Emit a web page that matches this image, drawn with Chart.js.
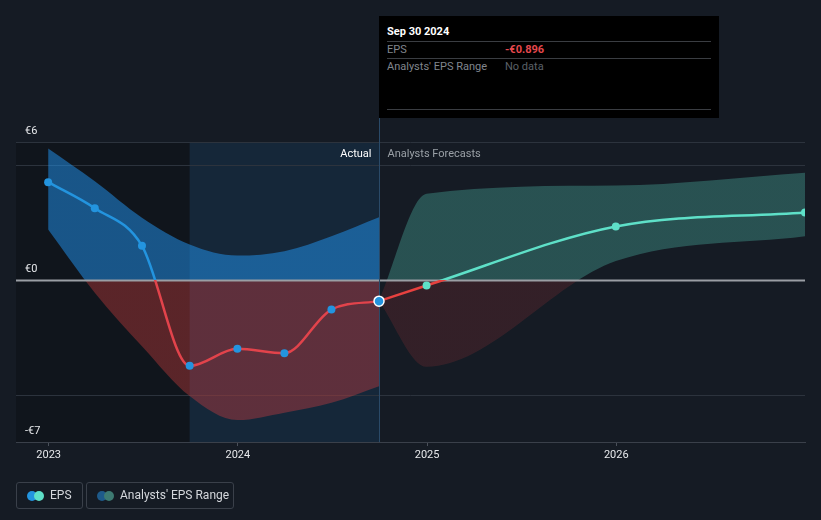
<!DOCTYPE html>
<html>
<head>
<meta charset="utf-8">
<script src="https://cdn.jsdelivr.net/npm/chart.js@4/dist/chart.umd.min.js"></script>
<style>
body { margin: 0; background: #151b24; font-family: Roboto, "Noto Sans", sans-serif; }
#wrap { position: relative; width: 821px; height: 520px; }
#tip { position: absolute; left: 379px; top: 16px; width: 340px; height: 102px; background: #000; font-size: 11px; }
#tip div { position: absolute; white-space: nowrap; line-height: 14px; }
#tip .rule { height: 1px; left: 8px; width: 324px; background: #3a3d42; }
.lg { position: absolute; top: 482px; height: 25px; border: 1px solid #3a404a; border-radius: 3px; color: #d4d7dc; font-size: 12px; line-height: 25px; }
.dot { position: absolute; top: 8px; width: 10px; height: 10px; border-radius: 50%; }
</style>
</head>
<body>
<div id="wrap">
<canvas id="chart1" width="821" height="520"></canvas>
<div id="tip">
  <div style="left:8px;top:9px;color:#fff;font-weight:bold;">Sep 30 2024</div>
  <div class="rule" style="top:25px"></div>
  <div style="left:8px;top:27px;color:#80868e;">EPS</div>
  <div style="left:126px;top:27px;color:#e5484d;font-weight:bold;">-€0.896</div>
  <div class="rule" style="top:42px"></div>
  <div style="left:8px;top:44px;color:#80868e;">Analysts' EPS Range</div>
  <div style="left:126px;top:44px;color:#5b6068;">No data</div>
  <div class="rule" style="top:93px"></div>
</div>
<div class="lg" style="left:16px;width:65px;">
  <span class="dot" style="left:10px;background:#2394df"></span>
  <span class="dot" style="left:17px;background:#5ee0c8"></span>
  <span style="position:absolute;left:33px;">EPS</span>
</div>
<div class="lg" style="left:86px;width:146px;">
  <span class="dot" style="left:10px;background:#1e5a8a"></span>
  <span class="dot" style="left:17px;background:#3d7a72"></span>
  <span style="position:absolute;left:33px;">Analysts' EPS Range</span>
</div>
</div>
<script>
// actual EPS, quarterly
const actualDates = ["2022-12-31", "2023-03-31", "2023-06-30", "2023-09-30", "2023-12-31", "2024-03-31", "2024-06-30", "2024-09-30"];
const actualEps = [4.26, 3.13, 1.50, -3.70, -2.96, -3.15, -1.26, -0.896];
const pastRangeHigh = [5.72, 4.30, 2.72, 1.56, 1.08, 1.27, 1.92, 2.74];
const pastRangeLow = [2.21, -0.53, -2.85, -5.01, -6.05, -5.73, -5.30, -4.58];
// analysts forecasts
const forecastDates = ["2024-09-30", "2024-12-31", "2025-12-31", "2026-12-31"];
const forecastEps = [-0.896, -0.22, 2.34, 2.95];
const forecastHigh = [-0.896, 3.76, 4.12, 4.67];
const forecastLow = [-0.896, -3.74, 0.84, 1.92];
const yearTicks = [2023, 2024, 2025, 2026];
const yTicks = [-7, -5, 0, 5, 6];
const highlightFrom = "2023-09-30";
const todayDate = "2024-09-30";

function toYear(s) {
    var d = new Date(s + "T00:00:00Z");
    var y = d.getUTCFullYear();
    var start = Date.UTC(y, 0, 1), end = Date.UTC(y + 1, 0, 1);
    return y + (d.getTime() - start) / (end - start);
}
function pts(dates, vals) {
    return dates.map((d, i) => ({ x: toYear(d), y: vals[i] }));
}
// colour above / below zero
function splitColor(above, below) {
    return function (ctx) {
        var chart = ctx.chart;
        var area = chart.chartArea;
        if (!area) return above;
        var z = chart.scales.y.getPixelForValue(0);
        var t = (z - area.top) / (area.bottom - area.top);
        t = Math.min(1, Math.max(0, t));
        var g = chart.ctx.createLinearGradient(0, area.top, 0, area.bottom);
        g.addColorStop(0, above);
        g.addColorStop(t, above);
        g.addColorStop(t, below);
        g.addColorStop(1, below);
        return g;
    };
}

const extras = {
    id: "extras",
    beforeDraw(chart) {
        var c = chart.ctx, a = chart.chartArea, x = chart.scales.x;
        var h1 = x.getPixelForValue(toYear(highlightFrom));
        var h2 = x.getPixelForValue(toYear(todayDate));
        c.save();
        c.fillStyle = "rgba(0,0,0,0.2)";
        c.fillRect(a.left, a.top, h1 - a.left, a.bottom - a.top);
        c.fillStyle = "rgba(33,150,243,0.1)";
        c.fillRect(h1, a.top, h2 - h1, a.bottom - a.top);
        c.restore();
    },
    afterDatasetDraw(chart, args) {
        if (args.index !== 2) return;
        var c = chart.ctx, a = chart.chartArea;
        var z = chart.scales.y.getPixelForValue(0);
        var t = Math.round(chart.scales.x.getPixelForValue(toYear(todayDate))) + 0.5;
        c.save();
        c.strokeStyle = "#9a9ea4";
        c.lineWidth = 2;
        c.beginPath();
        c.moveTo(a.left, z);
        c.lineTo(a.right, z);
        c.stroke();
        c.strokeStyle = "#2a4a68";
        c.lineWidth = 1;
        c.beginPath();
        c.moveTo(t, 16);
        c.lineTo(t, a.bottom);
        c.stroke();
        c.font = "11px Roboto";
        c.textBaseline = "middle";
        c.textAlign = "right";
        c.fillStyle = "#ffffff";
        c.fillText("Actual", t - 8, a.top + 12);
        c.textAlign = "left";
        c.fillStyle = "#9aa0a6";
        c.fillText("Analysts Forecasts", t + 8, a.top + 12);
        c.restore();
    }
};

const lastIdx = actualDates.length - 1;

new Chart(document.getElementById("chart1"), {
    type: "line",
    data: {
        datasets: [{
            label: "EPS",
            data: pts(actualDates, actualEps),
            borderColor: splitColor("#2394df", "#e2434b"),
            borderWidth: 2.5,
            cubicInterpolationMode: "monotone",
            pointRadius: (ctx) => ctx.dataIndex === lastIdx ? 5 : 4,
            pointBackgroundColor: "#2394df",
            pointBorderColor: (ctx) => ctx.dataIndex === lastIdx ? "#ffffff" : "#2394df",
            pointBorderWidth: (ctx) => ctx.dataIndex === lastIdx ? 1.5 : 0,
            fill: false
        }, {
            label: "EPS forecast",
            data: pts(forecastDates, forecastEps),
            borderColor: splitColor("#5ee0c8", "#e8413f"),
            borderWidth: 2.5,
            cubicInterpolationMode: "monotone",
            pointRadius: (ctx) => ctx.dataIndex === 0 ? 0 : 4,
            pointBackgroundColor: "#5ee0c8",
            pointBorderWidth: 0,
            fill: false
        }, {
            label: "range low",
            data: pts(actualDates, pastRangeLow),
            borderWidth: 0,
            pointRadius: 0,
            cubicInterpolationMode: "monotone",
            fill: false
        }, {
            label: "Analysts' EPS Range",
            data: pts(actualDates, pastRangeHigh),
            borderWidth: 0,
            pointRadius: 0,
            cubicInterpolationMode: "monotone",
            backgroundColor: splitColor("rgba(33,150,243,0.5)", "rgba(230,65,65,0.35)"),
            fill: "-1"
        }, {
            label: "forecast low",
            data: pts(forecastDates, forecastLow),
            borderWidth: 0,
            pointRadius: 0,
            cubicInterpolationMode: "monotone",
            fill: false
        }, {
            label: "forecast high",
            data: pts(forecastDates, forecastHigh),
            borderWidth: 0,
            pointRadius: 0,
            cubicInterpolationMode: "monotone",
            backgroundColor: splitColor("rgba(92,224,200,0.28)", "rgba(230,65,65,0.15)"),
            fill: "-1"
        }]
    },
    options: {
        responsive: false,
        animation: false,
        events: [],
        layout: { padding: { left: 16, right: 16, top: 142, bottom: 0 } },
        plugins: { legend: { display: false }, tooltip: { enabled: false } },
        scales: {
            x: {
                type: "linear",
                min: toYear("2022-10-30"),
                max: toYear("2026-12-31"),
                afterBuildTicks: (s) => { s.ticks = yearTicks.map(v => ({ value: v })); },
                afterFit: (s) => { s.height = 78; },
                grid: { drawOnChartArea: false, drawTicks: true, tickLength: 4, color: "#4a505a" },
                border: { display: true, color: "#3a404a" },
                ticks: { color: "#e6e8eb", font: { family: "Roboto", size: 11 }, padding: 3, maxRotation: 0, callback: (v) => String(v) }
            },
            y: {
                min: -7,
                max: 6,
                afterBuildTicks: (s) => { s.ticks = yTicks.map(v => ({ value: v })); },
                afterFit: (s) => { s.width = 0; },
                grid: { drawTicks: false, color: (ctx) => ctx.tick && ctx.tick.value === 0 ? "rgba(0,0,0,0)" : "#2c333d" },
                border: { display: false },
                ticks: {
                    mirror: true,
                    padding: 9,
                    labelOffset: -11,
                    color: "#e6e8eb",
                    font: { family: "Roboto", size: 11 },
                    callback: (v) => (v === 5 || v === -5) ? "" : (v < 0 ? "-€" + (-v) : "€" + v)
                }
            }
        }
    },
    plugins: [extras]
});
</script>
</body>
</html>
